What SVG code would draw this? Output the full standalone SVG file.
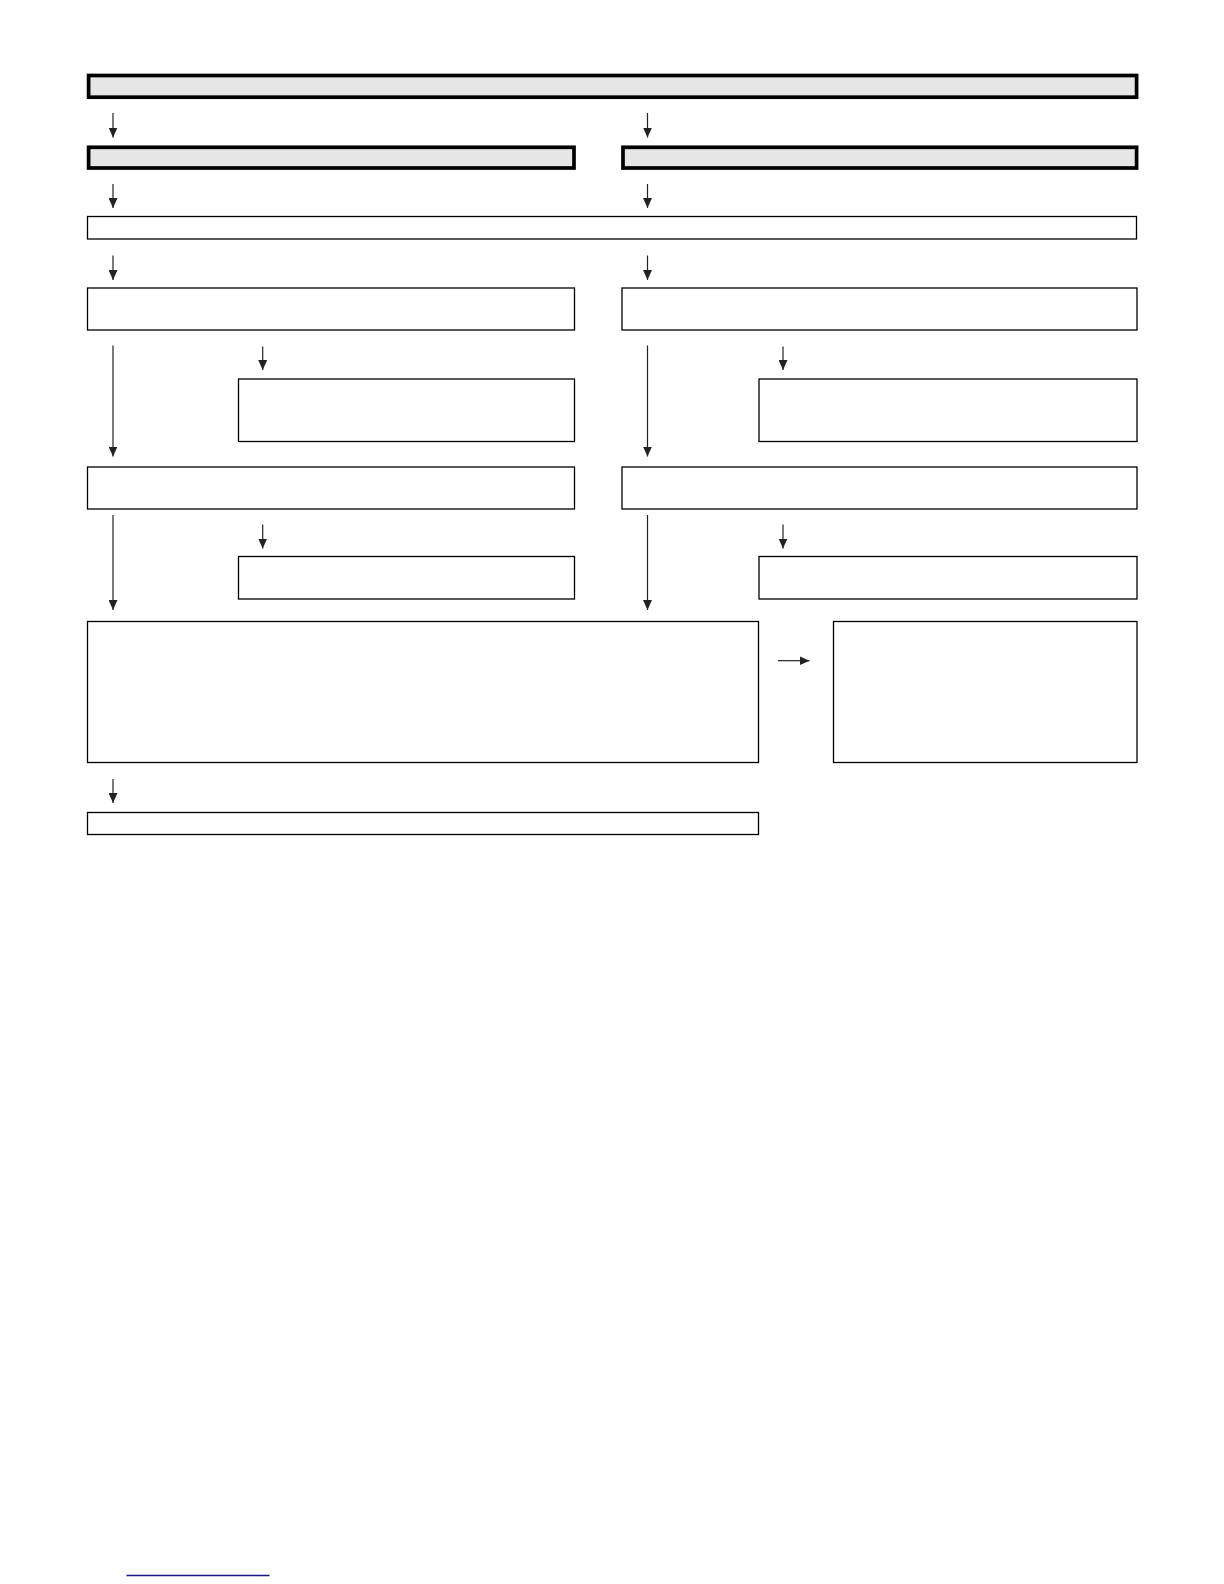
<svg xmlns="http://www.w3.org/2000/svg" width="1224" height="1584" viewBox="0 0 1224 1584">
<style>
.thick{fill:#e6e6e6;stroke:#000;stroke-width:3.7}
.thin{fill:#fff;stroke:#000;stroke-width:1.3}
.arr{stroke:#222;stroke-width:1.2;fill:none;marker-end:url(#ah)}
</style>
<defs>
<marker id="ah" markerUnits="userSpaceOnUse" markerWidth="10" markerHeight="9" viewBox="0 0 10 9" refX="10" refY="4.5" orient="auto">
<path d="M0,0 L10,4.5 L0,9 Z" fill="#222"/>
</marker>
</defs>
<rect width="1224" height="1584" fill="#fff"/>
<g id="n-top"><rect class="thick" x="88.6" y="75.5" width="1048" height="21.7"/></g>
<g id="n-l2"><rect class="thick" x="88.6" y="147.3" width="485.4" height="20.7"/></g>
<g id="n-r2"><rect class="thick" x="623" y="147.3" width="513.6" height="20.7"/></g>
<g id="n-3"><rect class="thin" x="87.5" y="216.5" width="1049" height="22.5"/></g>
<g id="n-l4"><rect class="thin" x="87.5" y="288" width="487" height="42"/></g>
<g id="n-r4"><rect class="thin" x="622" y="288" width="515" height="42"/></g>
<g id="n-l4s"><rect class="thin" x="238.5" y="379" width="336" height="62.5"/></g>
<g id="n-r4s"><rect class="thin" x="759" y="379" width="378" height="62.5"/></g>
<g id="n-l5"><rect class="thin" x="87.5" y="467" width="487" height="42"/></g>
<g id="n-r5"><rect class="thin" x="622" y="467" width="515" height="42"/></g>
<g id="n-l5s"><rect class="thin" x="238.5" y="556.5" width="336" height="42.5"/></g>
<g id="n-r5s"><rect class="thin" x="759" y="556.5" width="378" height="42.5"/></g>
<g id="n-big"><rect class="thin" x="87.5" y="621.5" width="671" height="141"/></g>
<g id="n-side"><rect class="thin" x="833.5" y="621.5" width="303.5" height="141"/></g>
<g id="n-bottom"><rect class="thin" x="87.5" y="812.5" width="671" height="22"/></g>
<g id="connectors">
<line class="arr" x1="113" y1="113" x2="113" y2="137.5"/>
<line class="arr" x1="647.5" y1="113" x2="647.5" y2="137.5"/>
<line class="arr" x1="113" y1="184" x2="113" y2="208"/>
<line class="arr" x1="647.5" y1="184" x2="647.5" y2="208"/>
<line class="arr" x1="113" y1="255.5" x2="113" y2="280"/>
<line class="arr" x1="647.5" y1="255.5" x2="647.5" y2="280"/>
<line class="arr" x1="113" y1="345.5" x2="113" y2="456.5"/>
<line class="arr" x1="647.5" y1="345.5" x2="647.5" y2="456.5"/>
<line class="arr" x1="262.7" y1="346.5" x2="262.7" y2="370"/>
<line class="arr" x1="783" y1="346.5" x2="783" y2="370"/>
<line class="arr" x1="113" y1="515" x2="113" y2="610"/>
<line class="arr" x1="647.5" y1="515" x2="647.5" y2="610"/>
<line class="arr" x1="262.7" y1="524.5" x2="262.7" y2="548.5"/>
<line class="arr" x1="783" y1="524.5" x2="783" y2="548.5"/>
<line class="arr" x1="778" y1="660.7" x2="809.5" y2="660.7"/>
<line class="arr" x1="113" y1="779" x2="113" y2="803"/>
</g>
<line x1="126.5" y1="1575.5" x2="269.5" y2="1575.5" stroke="#16168a" stroke-width="1.4"/>
</svg>
